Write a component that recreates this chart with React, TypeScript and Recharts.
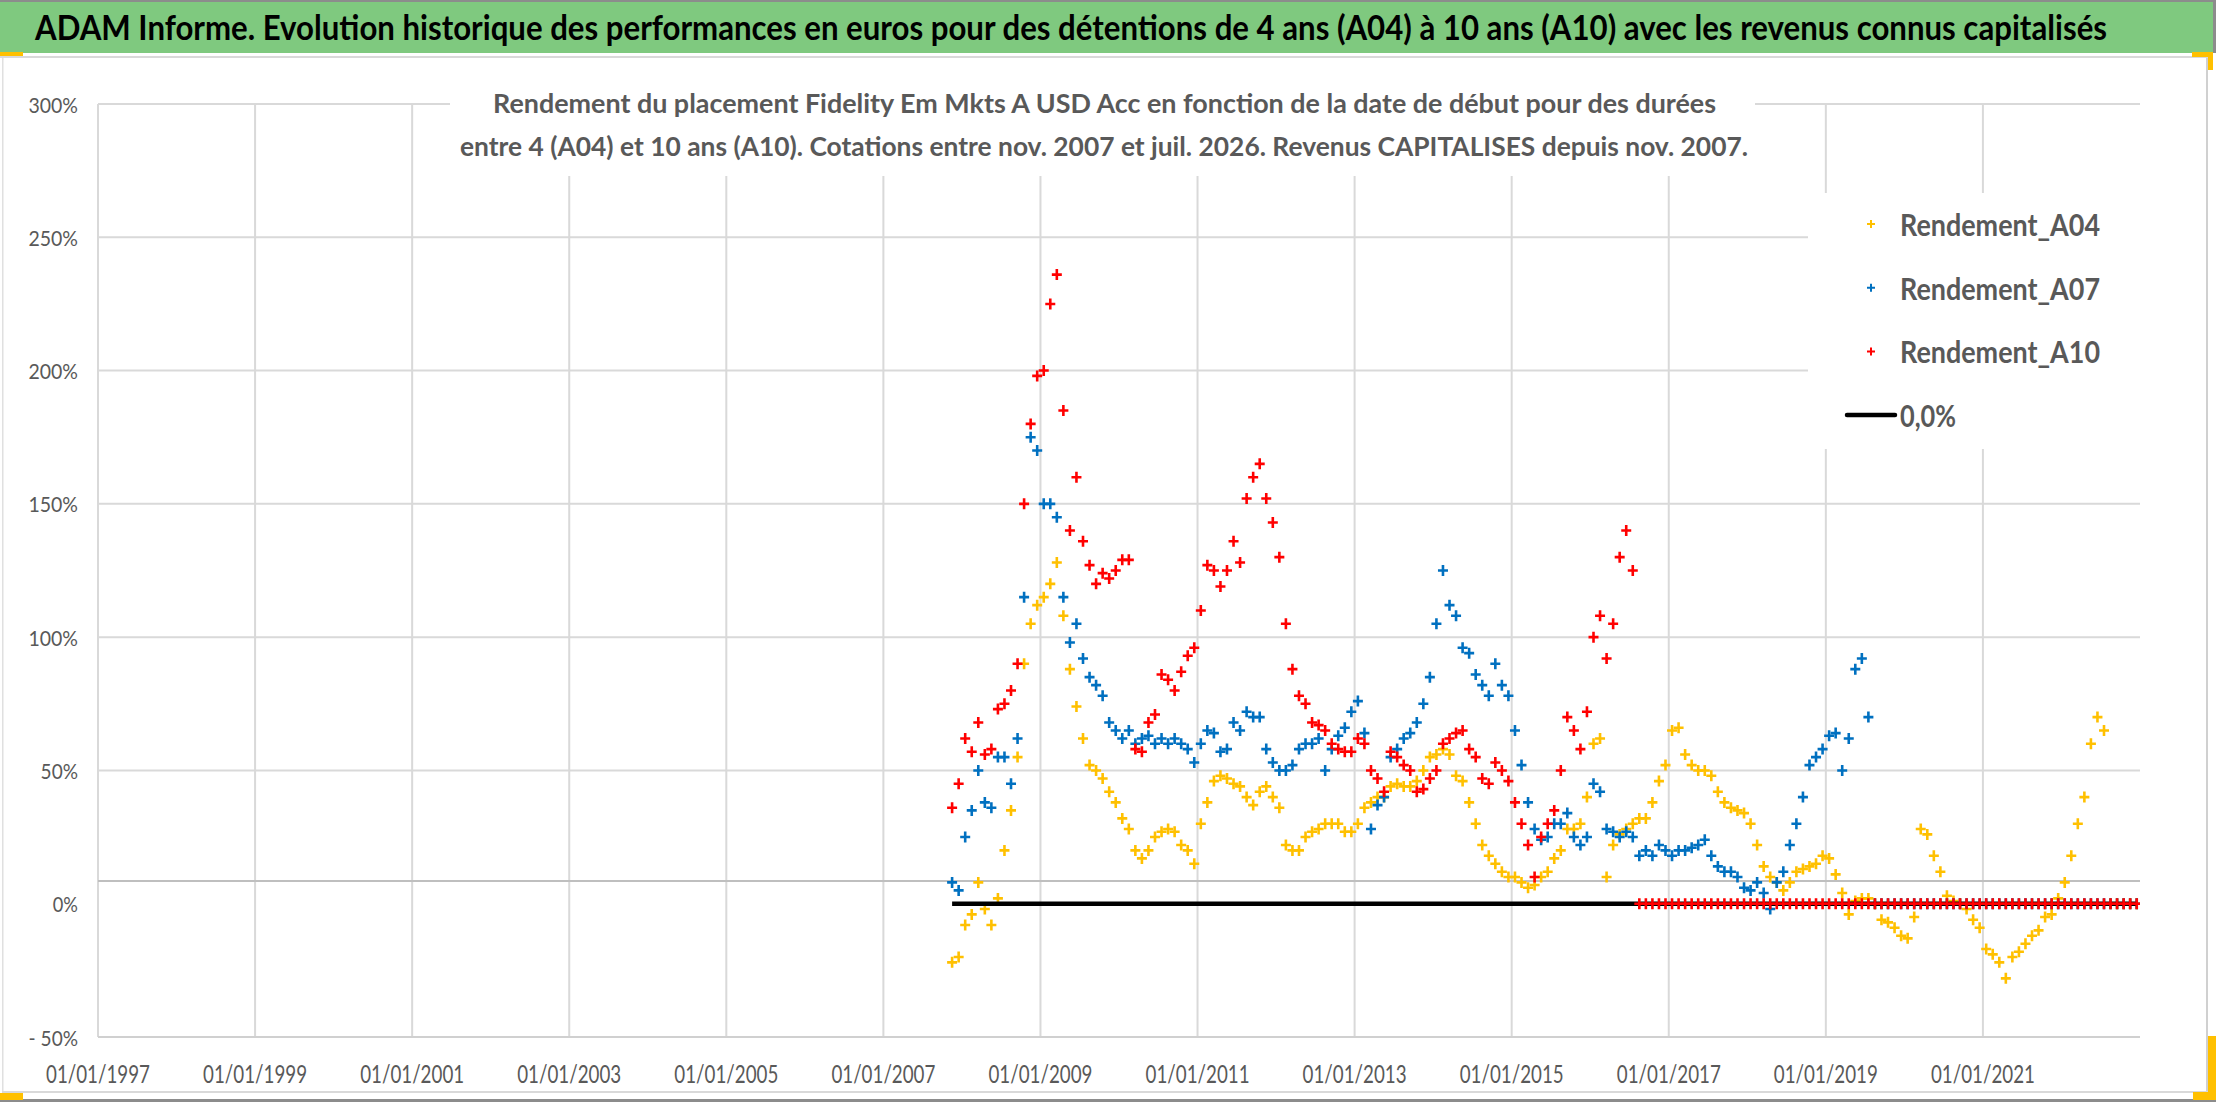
import React from 'react';
import { ScatterChart, Scatter, XAxis, YAxis, CartesianGrid, ReferenceLine, Legend } from 'recharts';

// ---- data (monthly samples, first sample mid-Nov 2007) ----
const START_YEAR = 2007.875;
const MONTH = 1 / 12;

const rendementA04 = [
  -22, -20, -8, -4, 8, -2, -8, 2, 20, 35, 55, 90,
  105, 112, 115, 120, 128, 108, 88, 74, 62, 52, 50, 47,
  42, 38, 32, 28, 20, 17, 20, 25, 27, 28, 27, 22,
  20, 15, 30, 38, 46, 48, 47, 45, 44, 40, 37, 42,
  44, 40, 36, 22, 20, 20, 25, 27, 28, 30, 30, 30,
  27, 27, 30, 36, 38, 40, 40, 44, 45, 44, 44, 46,
  50, 55, 56, 58, 56, 48, 46, 38, 30, 22, 18, 15,
  12, 10, 10, 8, 6, 7, 10, 12, 17, 20, 28, 28,
  30, 40, 60, 62, 10, 22, 26, 28, 30, 32, 32, 38,
  46, 52, 65, 66, 56, 52, 50, 50, 48, 42, 38, 36,
  35, 34, 30, 22, 14, 10, 8, 5, 8, 12, 13, 14,
  15, 18, 17, 11, 4, -4, 1, 2, 2, 0, -6, -7,
  -9, -12, -13, -5, 28, 26, 18, 12, 3, 1, 0, -2,
  -6, -9, -17, -19, -22, -28, -20, -18, -15, -12, -10, -5,
  -4, 2, 8, 18, 30, 40, 60, 70, 65, 0, 0, 0,
  0, 0,
];

const rendementA07 = [
  8, 5, 25, 35, 50, 38, 36, 55, 55, 45, 62, 115,
  175, 170, 150, 150, 145, 115, 98, 105, 92, 85, 82, 78,
  68, 65, 62, 65, 60, 62, 63, 60, 62, 60, 62, 60,
  58, 53, 60, 65, 64, 57, 58, 68, 65, 72, 70, 70,
  58, 53, 50, 50, 52, 58, 60, 60, 62, 50, 58, 63,
  66, 72, 76, 64, 28, 37, 40, 55, 58, 62, 64, 68,
  75, 85, 105, 125, 112, 108, 96, 94, 86, 82, 78, 90,
  82, 78, 65, 52, 38, 28, 24, 25, 30, 30, 34, 25,
  22, 25, 45, 42, 28, 27, 25, 27, 25, 18, 20, 18,
  22, 20, 18, 20, 20, 21, 22, 24, 18, 14, 12, 12,
  10, 6, 5, 8, 4, -2, 8, 12, 22, 30, 40, 52,
  55, 58, 63, 64, 50, 62, 88, 92, 70, 0, 0, 0,
  0, 0, 0, 0, 0, 0, 0, 0, 0, 0, 0, 0,
  0, 0, 0, 0, 0, 0, 0, 0, 0, 0, 0, 0,
  0, 0, 0, 0, 0, 0, 0, 0, 0, 0, 0, 0,
  0, 0,
];

const rendementA10 = [
  36, 45, 62, 57, 68, 56, 58, 73, 75, 80, 90, 150,
  180, 198, 200, 225, 236, 185, 140, 160, 136, 127, 120, 124,
  122, 125, 129, 129, 58, 57, 68, 71, 86, 84, 80, 87,
  93, 96, 110, 127, 125, 119, 125, 136, 128, 152, 160, 165,
  152, 143, 130, 105, 88, 78, 75, 68, 67, 65, 60, 58,
  57, 57, 62, 60, 50, 47, 42, 57, 55, 52, 50, 42,
  43, 47, 50, 60, 62, 64, 65, 58, 55, 47, 45, 53,
  50, 46, 38, 30, 22, 10, 25, 30, 35, 50, 70, 65,
  58, 72, 100, 108, 92, 105, 130, 140, 125, 0, 0, 0,
  0, 0, 0, 0, 0, 0, 0, 0, 0, 0, 0, 0,
  0, 0, 0, 0, 0, 0, 0, 0, 0, 0, 0, 0,
  0, 0, 0, 0, 0, 0, 0, 0, 0, 0, 0, 0,
  0, 0, 0, 0, 0, 0, 0, 0, 0, 0, 0, 0,
  0, 0, 0, 0, 0, 0, 0, 0, 0, 0, 0, 0,
  0, 0, 0, 0, 0, 0, 0, 0, 0, 0, 0, 0,
  0, 0,
];

const zeroLineDates = [2007.875, 2022.958];
const zeroLineValues = [0, 0];

const xTicks = [1997, 1999, 2001, 2003, 2005, 2007, 2009, 2011, 2013, 2015, 2017, 2019, 2021];
const yTicks = [-50, 0, 50, 100, 150, 200, 250, 300];
const yGridValues = [50, 100, 150, 200, 250, 300];
const xAxisCrossing = 8.5;

const seriesNames = ['Rendement_A04', 'Rendement_A07', 'Rendement_A10', '0,0%'];
const seriesColors = ['#FFC000', '#0070C0', '#FF0000', '#000000'];

const titleText =
  'ADAM Informe. Evolution historique des performances en euros pour des détentions de 4 ans (A04) à 10 ans (A10) avec les revenus connus capitalisés';
const subtitleLines = [
  'Rendement du placement Fidelity Em Mkts A USD Acc en fonction de la date de début pour des durées',
  'entre 4 (A04) et 10 ans (A10). Cotations entre nov. 2007 et juil. 2026. Revenus CAPITALISES depuis nov. 2007.',
];

// ---- helpers ----
const toPoints = (vals: number[]) => vals.map((v, i) => ({ x: START_YEAR + i * MONTH, y: v }));
const a04Points = toPoints(rendementA04);
const a07Points = toPoints(rendementA07);
const a10Points = toPoints(rendementA10);
const zeroPoints = zeroLineDates.map((d, i) => ({ x: d, y: zeroLineValues[i] }));

const FONT = 'Lato, "Open Sans", sans-serif';
const GRAY_TEXT = '#595959';

const makeCross = (color: string) => (props: any) => {
  const { cx, cy } = props;
  if (cx == null || cy == null) return <g />;
  return (
    <path
      d={`M${cx - 5},${cy}H${cx + 5}M${cx},${cy - 5.5}V${cy + 5.5}`}
      stroke={color}
      strokeWidth={2.6}
      fill="none"
    />
  );
};

const charW: Record<string, number> = { '%': 13, '-': 7, ' ': 5 };
const yLabelWidth = (s: string) => s.split('').reduce((a, c) => a + (charW[c] ?? 12.2), 0);
const fmtY = (v: number) => (v < 0 ? `- ${Math.abs(v)}%` : `${v}%`);

const YTick = (props: any) => {
  const { x, y, payload } = props;
  const s = fmtY(payload.value);
  return (
    <text
      x={x - 12}
      y={y}
      textAnchor="end"
      dominantBaseline="central"
      fontFamily={FONT}
      fontSize={22}
      fill={GRAY_TEXT}
      textLength={yLabelWidth(s)}
      lengthAdjust="spacingAndGlyphs"
    >
      {s}
    </text>
  );
};

const XTick = (props: any) => {
  const { x, y, payload } = props;
  return (
    <text
      x={x}
      y={y + 28}
      textAnchor="middle"
      dominantBaseline="central"
      fontFamily={FONT}
      fontSize={24.5}
      fill={GRAY_TEXT}
      textLength={104}
      lengthAdjust="spacingAndGlyphs"
    >
      {`01/01/${payload.value}`}
    </text>
  );
};

const legendTextWidth: Record<string, number> = {
  Rendement_A04: 200,
  Rendement_A07: 200,
  Rendement_A10: 200,
  '0,0%': 56,
};

const LegendContent = (props: any) => {
  const payload: any[] = props.payload || [];
  const items = seriesNames
    .map((n) => payload.find((p) => p.value === n))
    .filter(Boolean);
  return (
    <svg width={332} height={256} style={{ display: 'block', background: '#ffffff' }}>
      {items.map((it: any, i: number) => {
        const cy = 31 + i * 63.7;
        const isLine = it.type === 'line';
        return (
          <g key={it.value}>
            {isLine ? (
              <line x1={39} x2={87} y1={cy} y2={cy} stroke={it.color} strokeWidth={4.5} strokeLinecap="round" />
            ) : (
              <path d={`M${59},${cy}H${67}M${63},${cy - 4}V${cy + 4}`} stroke={it.color} strokeWidth={2} />
            )}
            <text
              x={92}
              y={cy}
              dominantBaseline="central"
              fontFamily={FONT}
              fontWeight={700}
              fontSize={31}
              fill={GRAY_TEXT}
              textLength={legendTextWidth[it.value] ?? 200}
              lengthAdjust="spacingAndGlyphs"
            >
              {it.value}
            </text>
          </g>
        );
      })}
    </svg>
  );
};

const TITLE_VSCALE = 1.2;

const Decorations = () => (
  <svg
    width={2216}
    height={1102}
    style={{ position: 'absolute', left: 0, top: 0, pointerEvents: 'none' }}
  >
    {/* title bar */}
    <rect x={0} y={0} width={2213} height={53} fill="#7fc97f" />
    <rect x={0} y={0} width={2216} height={2} fill="#8c8c8c" />
    <rect x={2213} y={0} width={3} height={53} fill="#8c8c8c" />
    <g transform={`scale(1, ${TITLE_VSCALE})`}>
      <text
        x={35}
        y={40 / TITLE_VSCALE}
        fontFamily={FONT}
        fontWeight={700}
        fontSize={28}
        fill="#000000"
        textLength={2072}
        lengthAdjust="spacingAndGlyphs"
      >
        {titleText}
      </text>
    </g>
    <rect x={0} y={56} width={2208} height={2} fill="#d9d9d9" />
    {/* chart frame */}
    <rect x={2} y={58} width={1.5} height={1034} fill="#e0e0e0" />
    <rect x={2206} y={58} width={2} height={1034} fill="#d0d0d0" />
    <rect x={2} y={1091} width={2206} height={2} fill="#d9d9d9" />
    <rect x={0} y={1099} width={2216} height={3} fill="#8c8c8c" />
    {/* subtitle */}
    <rect x={450} y={84} width={1305} height={92} fill="#ffffff" />
    {subtitleLines.map((s, i) => (
      <text
        key={i}
        x={i === 0 ? 493 : 460}
        y={i === 0 ? 113 : 156}
        fontFamily={FONT}
        fontWeight={700}
        fontSize={27}
        fill={GRAY_TEXT}
        textLength={i === 0 ? 1223 : 1288}
        lengthAdjust="spacingAndGlyphs"
      >
        {s}
      </text>
    ))}
    {/* selection handles */}
    <rect x={0} y={52} width={23} height={4} fill="#FFC000" />
    <rect x={2192} y={52} width={21} height={5} fill="#FFC000" />
    <rect x={2208} y={52} width={5} height={18} fill="#FFC000" />
    <rect x={2208} y={1036} width={8} height={64} fill="#FFC000" />
    <rect x={2193} y={1092} width={23} height={8} fill="#FFC000" />
    <rect x={0} y={1093} width={23} height={7} fill="#FFC000" />
  </svg>
);

export default function App() {
  return (
    <div style={{ position: 'absolute', left: 0, top: 0, width: 2216, height: 1102, background: '#ffffff' }}>
      <ScatterChart width={2216} height={1102} margin={{ top: 104, right: 76, bottom: 0, left: 0 }}>
        <CartesianGrid
          stroke="#d9d9d9"
          strokeWidth={2}
          horizontalValues={yGridValues}
          verticalValues={xTicks}
        />
        <ReferenceLine y={xAxisCrossing} stroke="#bfbfbf" strokeWidth={2} />
        <XAxis
          type="number"
          dataKey="x"
          domain={[1997, 2023]}
          ticks={xTicks}
          interval={0}
          allowDataOverflow
          tick={XTick}
          tickLine={false}
          axisLine={{ stroke: '#d0d0d0', strokeWidth: 2 }}
          height={65}
        />
        <YAxis
          type="number"
          dataKey="y"
          domain={[-50, 300]}
          ticks={yTicks}
          interval={0}
          allowDataOverflow
          tick={YTick}
          tickLine={false}
          axisLine={false}
          width={98}
        />
        <Scatter
          name={seriesNames[0]}
          data={a04Points}
          fill={seriesColors[0]}
          shape={makeCross(seriesColors[0])}
          isAnimationActive={false}
        />
        <Scatter
          name={seriesNames[1]}
          data={a07Points}
          fill={seriesColors[1]}
          shape={makeCross(seriesColors[1])}
          isAnimationActive={false}
        />
        <Scatter
          name={seriesNames[3]}
          data={zeroPoints}
          fill={seriesColors[3]}
          line={{ stroke: seriesColors[3], strokeWidth: 4.5 }}
          lineType="joint"
          shape={() => <g />}
          legendType="line"
          isAnimationActive={false}
        />
        <Scatter
          name={seriesNames[2]}
          data={a10Points}
          fill={seriesColors[2]}
          shape={makeCross(seriesColors[2])}
          isAnimationActive={false}
        />
        <Legend
          layout="vertical"
          align="center"
          verticalAlign="middle"
          wrapperStyle={{ left: 1808, top: 193, width: 332, height: 256, right: 'auto', bottom: 'auto' }}
          content={LegendContent}
        />
      </ScatterChart>
      <Decorations />
    </div>
  );
}
